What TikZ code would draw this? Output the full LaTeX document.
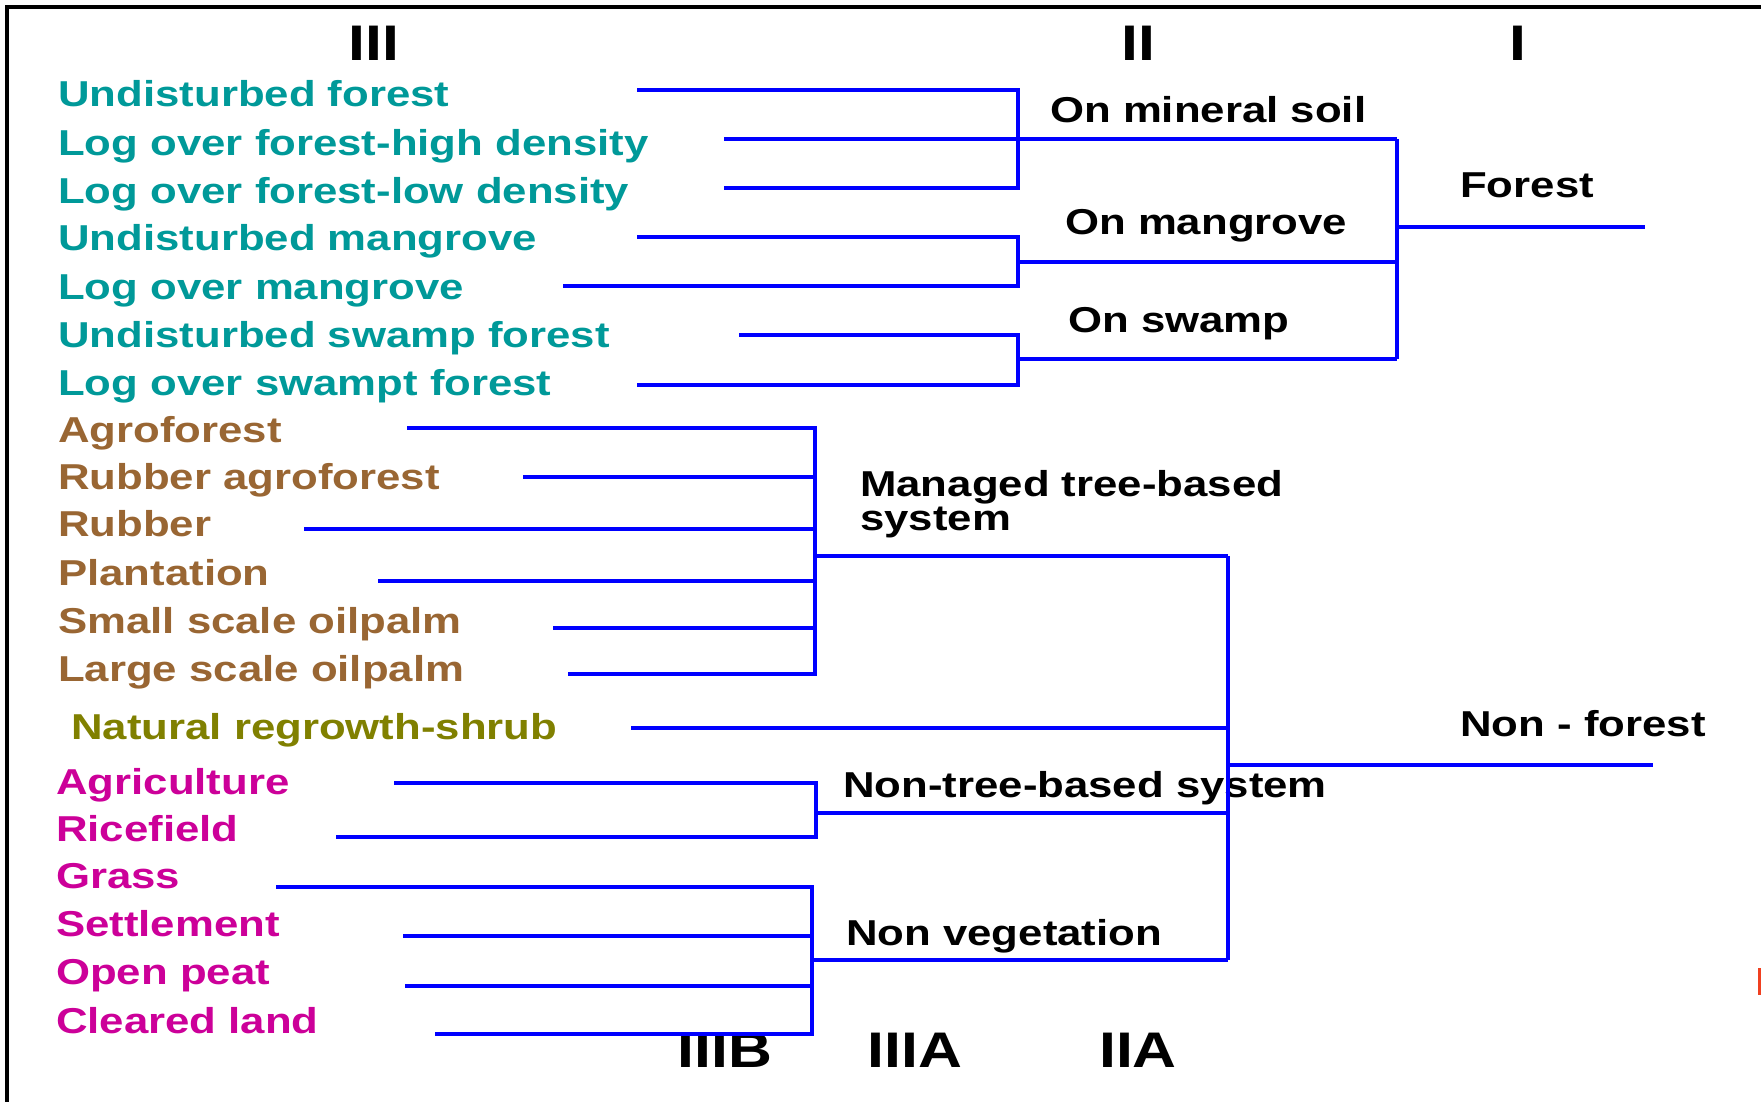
\documentclass[tikz,border=0pt]{standalone}
\usepackage{fontspec}
\setmainfont{Liberation Sans}[FakeStretch=1.215]
\definecolor{forestc}{RGB}{0,153,153}
\definecolor{agroc}{RGB}{153,102,51}
\definecolor{shrubc}{RGB}{128,128,0}
\definecolor{openc}{RGB}{204,0,153}
\definecolor{linkc}{RGB}{0,0,255}
\definecolor{markc}{RGB}{240,64,32}

\begin{document}
\begin{tikzpicture}[x=1pt, y=-1pt,
  every node/.style={inner sep=0pt, font=\fontsize{36}{34}\selectfont\bfseries},
  lbl/.style={anchor=west, text height=26pt, text depth=0pt},
  hd/.style={font=\fontsize{50}{50}\selectfont\bfseries, text height=36pt, text depth=0pt},
  link/.style={linkc, line width=4pt}]
\useasboundingbox (0,0) rectangle (1761,1102);
\draw[line width=3.5pt] (7,1102) -- (7,7) -- (1761,7);
\fill[markc] (1758,968) rectangle (1761,995);

% level headings
\node[hd] (h3) at (374,43) {III};
\node[hd] (h2) at (1138,43) {II};
\node[hd] (h1) at (1518,43) {I};
\node[hd] (h3b) at (725,1049) {IIIB};
\node[hd] (h3a) at (915,1049) {IIIA};
\node[hd] (h2a) at (1138,1049) {IIA};

% level III classes
\node[lbl, forestc] (t1) at (58,94) {Undisturbed forest};
\node[lbl, forestc] (t2) at (58,143) {Log over forest-high density};
\node[lbl, forestc] (t3) at (58,191) {Log over forest-low density};
\node[lbl, forestc] (t4) at (58,238) {Undisturbed mangrove};
\node[lbl, forestc] (t5) at (58,286) {Log over mangrove};
\node[lbl, forestc] (t6) at (58,334) {Undisturbed swamp forest};
\node[lbl, forestc] (t7) at (58,382) {Log over swampt forest};
\node[lbl, agroc] (t8) at (58,429) {Agroforest};
\node[lbl, agroc] (t9) at (58,476) {Rubber agroforest};
\node[lbl, agroc] (t10) at (58,523) {Rubber};
\node[lbl, agroc] (t11) at (58,572) {Plantation};
\node[lbl, agroc] (t12) at (58,620) {Small scale oilpalm};
\node[lbl, agroc] (t13) at (58,668) {Large scale oilpalm};
\node[lbl, shrubc] (t14) at (71,726) {Natural regrowth-shrub};
\node[lbl, openc] (t15) at (56,781) {Agriculture};
\node[lbl, openc] (t16) at (56,828) {Ricefield};
\node[lbl, openc] (t17) at (56,875) {Grass};
\node[lbl, openc] (t18) at (56,923) {Settlement};
\node[lbl, openc] (t19) at (56,971) {Open peat};
\node[lbl, openc] (t20) at (56,1020) {Cleared land};

% level II and I classes
\node[lbl] (s1) at (1050,110) {On mineral soil};
\node[lbl] (s2) at (1065,221) {On mangrove};
\node[lbl] (s3) at (1068,319) {On swamp};
\node[anchor=base west, align=left] (s4) at (860,530) {Managed tree-based\\system};
\node[lbl] (s5) at (843,784) {Non-tree-based system};
\node[lbl] (s6) at (846,932) {Non vegetation};
\node[lbl] (c1) at (1460,185) {Forest};
\node[lbl] (c2) at (1460,723) {Non - forest};

% leaf ends
\coordinate (e1) at (637,90);
\coordinate (e2) at (724,139);
\coordinate (e3) at (724,188);
\coordinate (e4) at (637,237);
\coordinate (e5) at (563,286);
\coordinate (e6) at (739,335);
\coordinate (e7) at (637,385);
\coordinate (e8) at (407,428);
\coordinate (e9) at (523,477);
\coordinate (e10) at (304,529);
\coordinate (e11) at (378,581);
\coordinate (e12) at (553,628);
\coordinate (e13) at (568,674);
\coordinate (e14) at (631,728);
\coordinate (e15) at (394,783);
\coordinate (e16) at (336,837);
\coordinate (e17) at (276,887);
\coordinate (e18) at (403,936);
\coordinate (e19) at (405,986);
\coordinate (e20) at (435,1034);

% junctions
\coordinate (j1) at (1018,139);
\coordinate (j2) at (1018,262);
\coordinate (j3) at (1018,359);
\coordinate (j4) at (815,556);
\coordinate (j5) at (816,813);
\coordinate (j6) at (812,960);
\coordinate (jf) at (1397,227);
\coordinate (jn) at (1228,765);
\coordinate (ef) at (1645,227);
\coordinate (en) at (1653,765);

% forest branch
\draw[link] (e1) -| (j1) |- (e3);
\draw[link] (e2) -- (e2 -| jf);
\draw[link] (e4) -| (j2) |- (e5);
\draw[link] (j2) -- (j2 -| jf);
\draw[link] (e6) -| (j3) |- (e7);
\draw[link] (j3) -- (j3 -| jf);
\draw[link] (e2 -| jf) -- (j3 -| jf);
\draw[link] (jf) -- (ef);

% non-forest branch
\draw[link] (e8) -| (j4) |- (e13);
\foreach \e in {e9,e10,e11,e12}
  \draw[link] (\e) -- (\e -| j4);
\draw[link] (j4) -- (j4 -| jn);
\draw[link] (e14) -- (e14 -| jn);
\draw[link] (e15) -| (j5) |- (e16);
\draw[link] (j5) -- (j5 -| jn);
\draw[link] (e17) -| (j6) |- (e20);
\foreach \e in {e18,e19}
  \draw[link] (\e) -- (\e -| j6);
\draw[link] (j6) -- (j6 -| jn);
\draw[link] (j4 -| jn) -- (j6 -| jn);
\draw[link] (jn) -- (en);
\end{tikzpicture}
\end{document}
